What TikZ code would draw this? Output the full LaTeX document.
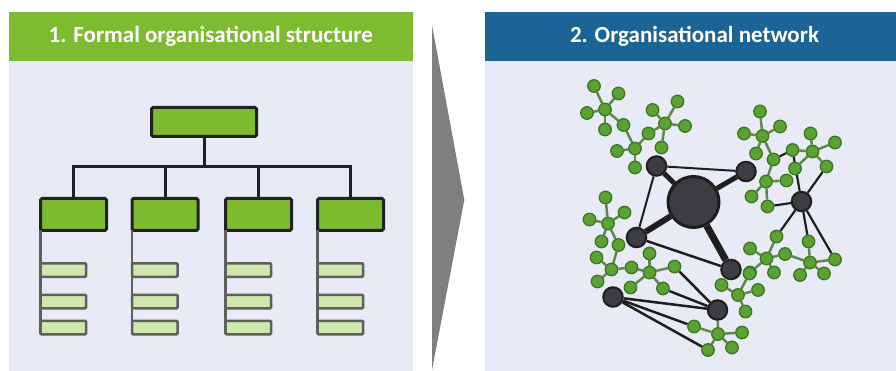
\documentclass[tikz,border=0pt]{standalone}
\usepackage{fontspec}
\setmainfont{Carlito}
\pgfdeclarelayer{back}
\pgfdeclarelayer{links}
\pgfsetlayers{back,links,main}
\definecolor{headgreen}{HTML}{7DBB30}
\definecolor{headblue}{HTML}{1C6496}
\definecolor{panelbg}{HTML}{E8EBF5}
\definecolor{arrowgray}{HTML}{7F7F7F}
\definecolor{boxline}{HTML}{222222}
\definecolor{boxgreen}{HTML}{7CBB2F}
\definecolor{staffline}{HTML}{5F5F5F}
\definecolor{stafffill}{HTML}{CFE8AC}
\definecolor{leaffill}{HTML}{5AA332}
\definecolor{leafline}{HTML}{3A7522}
\definecolor{leafedge}{HTML}{62874A}
\definecolor{darkfill}{HTML}{3C3D41}
\definecolor{darkline}{HTML}{1E1E1E}
\begin{document}
\begin{tikzpicture}[x=1pt,y=-1pt,
    headtext/.style={font=\bfseries\fontsize{23}{27}\selectfont,text=white,anchor=base},
    chief/.style={draw=boxline,line width=3pt,fill=boxgreen,rounded corners=1.5pt,
        minimum width=105pt,minimum height=29pt,inner sep=0pt,outer sep=0pt},
    dept/.style={chief,minimum width=66pt,minimum height=32pt},
    staff/.style={draw=staffline,line width=2.5pt,fill=stafffill,rounded corners=1pt,
        minimum width=45.5pt,minimum height=13.5pt,inner sep=0pt,outer sep=0pt,anchor=west},
    tie/.style={draw=boxline,line width=3pt},
    leaf/.style={circle,draw=leafline,line width=1.3pt,fill=leaffill,minimum size=12.5pt,inner sep=0pt},
    knot/.style={circle,draw=darkline,line width=2pt,fill=darkfill,minimum size=19.5pt,inner sep=0pt},
    twig/.style={draw=leafedge,line width=2.5pt},
    link/.style={draw=darkline,line width=2.2pt}]
\useasboundingbox (0,0) rectangle (896,371);

% panels
\begin{pgfonlayer}{back}
\fill[panelbg] (8.7,61) rectangle (412.7,371);
\fill[panelbg] (484.7,61) rectangle (896,371);
\end{pgfonlayer}
\fill[headgreen] (8.7,12) rectangle (412.7,61);
\fill[headblue] (484.7,12) rectangle (896,61);
\node[headtext] (t1) at (210.7,43) {1. Formal organisational structure};
\node[headtext] (t2) at (694.5,43) {2. Organisational network};

\fill[arrowgray] (432,25) -- (464.3,200) -- (432,370) -- cycle;

% formal structure
\node[chief] (top) at (204,122) {};
\coordinate (bus) at (204,167);
\foreach \i/\x in {1/73.5,2/165,3/258.5,4/350.5}{
    \node[dept] (b\i) at (\x,214.5) {};
    \pgfmathsetmacro\l{\x-33}
    \foreach \j/\y in {1/270,2/301.5,3/327.5}
        \node[staff] (s\i\j) at (\l,\y) {};
    \draw[staffline,line width=2.5pt] (b\i.south west) -- (s\i3.south west);
}
\draw[tie] (top.south) -- (bus);
\draw[tie] (b1.north) -- (b1.north |- bus) -- (b4.north |- bus) -- (b4.north);
\draw[tie] (b2.north |- bus) -- (b2.north);
\draw[tie] (b3.north |- bus) -- (b3.north);

% network
\foreach \n/\x/\y in {p1/605/109.5, p1a/594/86, p1b/618.5/93.5, p1c/587/113, p1d/605/129.5, s12/623.5/125,
    p2/635/148.5, p2a/617/151, p2b/635/167.5, s23/648.5/133.5,
    p3/665/123.5, p3a/652.5/110, p3b/677.5/101.5, p3c/685/126, p3d/661.5/147.5,
    p4/762.5/136, p4a/760/111.5, p4b/780/126.5, p4c/744/133.5, p4d/756/153.5, s45/773.5/159.5,
    p5/766/181.5, p5a/786.5/180.5, p5b/751.5/196.5, p5c/767.5/206.5,
    p6/812.5/151.5, p6a/810.5/133.5, p6b/835/142.5, p6c/826.5/166.5, p6d/795/168.5, p6e/792.5/150,
    p7/766.5/258.5, p7a/750/248.5, p7b/776.5/236.5, p7c/774/272.5, p7d/750/272.5, s78/785/254,
    p8/810/262.5, p8a/808.5/241.5, p8b/835/259.5, p8c/824/273.5, p8d/800/275,
    p9/608/223.5, p9a/605.5/197.5, p9b/624.5/212.5, p9c/589.5/219.5, p9d/601.5/241.5, s910/618.5/245,
    p10/611.5/269.5, p10a/596.5/257.5, p10b/597.5/281.5, s1011/631.5/267.5,
    p11/649.5/272.5, p11a/649.5/253.5, p11b/674.5/266.5, p11c/663/288.5, p11d/630.5/287.5,
    p12/738/295, p12a/749.5/273.5, p12b/721.5/285, p12c/758/290, p12d/745.5/311.5,
    p13/718/334, p13a/694/326.5, p13b/742/332.5, p13c/732/347.5, p13d/708/350}
    \node[leaf] (\n) at (\x,\y) {};

\node[knot,minimum size=51pt,line width=3pt] (hub) at (693.5,202) {};
\foreach \n/\x/\y in {na/656.5/166, nb/746/171.5, nc/801.5/201.5, nd/636.5/237.5,
    ne/731/269.5, nf/613/297, ng/717.5/310}
    \node[knot] (\n) at (\x,\y) {};

\begin{pgfonlayer}{links}
\foreach \c/\l in {p1/{p1a,p1b,p1c,p1d,s12}, p2/{s12,p2a,p2b,s23}, p3/{s23,p3a,p3b,p3c,p3d},
    p4/{p4a,p4b,p4c,p4d,s45}, p5/{s45,p5a,p5b,p5c}, p6/{p6a,p6b,p6c,p6d,p6e},
    p7/{p7a,p7b,p7c,p7d,s78}, p8/{s78,p8a,p8b,p8c,p8d}, p9/{p9a,p9b,p9c,p9d,s910},
    p10/{s910,p10a,p10b,s1011}, p11/{s1011,p11a,p11b,p11c,p11d},
    p12/{p12a,p12b,p12c,p12d}, p13/{p13a,p13b,p13c,p13d,ng}}
    \foreach \s in \l
        \draw[twig] (\c) -- (\s);
\foreach \a/\b/\w in {hub/na/5, hub/nb/5, hub/nd/6, hub/ne/7, na/nb/2, na/nd/2,
    nd/ne/2.5, nf/ng/2.5, nf/p13a/2.5, nf/p13d/2.5, ng/p11b/2.5, ng/p11c/2.5,
    nc/p6e/2.2, nc/p6c/2.2, nc/p5c/2.2, nc/p7b/2.2, nc/p8a/2.2, nc/p8b/2.2, s45/p6e/2.2}
    \draw[link,line width=\w pt] (\a) -- (\b);
\end{pgfonlayer}
\end{tikzpicture}
\end{document}
